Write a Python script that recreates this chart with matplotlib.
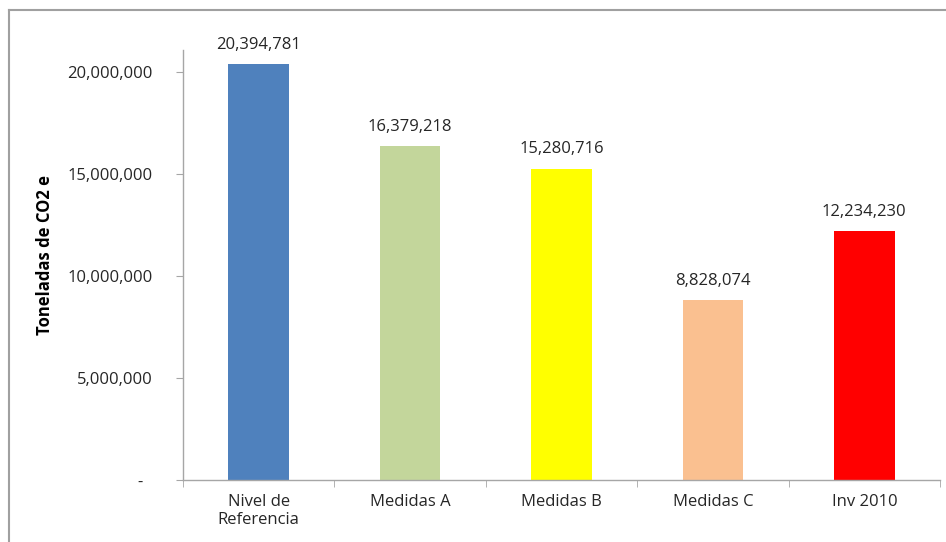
import matplotlib
matplotlib.use("Agg")
import matplotlib.pyplot as plt
from matplotlib.lines import Line2D

# data
categories = ["Nivel de\nReferencia", "Medidas A", "Medidas B", "Medidas C", "Inv 2010"]
values = [20394781, 16379218, 15280716, 8828074, 12234230]
bar_colors = ["#4F81BD", "#C3D69B", "#FFFF00", "#FAC090", "#FF0000"]
y_ticks = [0, 5000000, 10000000, 15000000, 20000000]

plt.rcParams["font.family"] = ["Open Sans", "DejaVu Sans"]
text_col = "#262626"
axis_col = "#A6A6A6"
fsize = 12

fig = plt.figure(figsize=(9.46, 5.42), dpi=100)
ax = fig.add_axes([0.1934, 0.1144, 0.8003, 0.7933])

x = list(range(len(categories)))
bars = ax.bar(x, values, width=0.4, color=bar_colors, zorder=2)

for xi, v in zip(x, values):
    ax.annotate("{:,}".format(v), (xi, v), xytext=(0, 8), textcoords="offset points",
                ha="center", va="bottom", fontsize=fsize, color=text_col)

ax.set_xlim(-0.5, len(categories) - 0.5)
ax.set_ylim(0, 21100000)
ax.set_yticks(y_ticks)
# zero shown as a dash, accounting style
ax.set_yticklabels(["{:,}".format(t) if t else "-  " for t in y_ticks])
ax.set_xticks(x)
ax.set_xticklabels(categories)
# tick marks sit between the categories
ax.set_xticks([i - 0.5 for i in range(len(categories) + 1)], minor=True)
ax.tick_params(axis="x", which="major", length=0, pad=10, labelsize=fsize, labelcolor=text_col)
ax.tick_params(axis="x", which="minor", length=5, color=axis_col, direction="out")
ax.tick_params(axis="y", length=5, color=axis_col, pad=17, labelsize=fsize, labelcolor=text_col)

fig.text(45 / 946, 1 - 255 / 542, "Toneladas de CO2 e", rotation=90, ha="center", va="center",
         fontsize=fsize, fontweight="bold", color="black")

for side in ["top", "right"]:
    ax.spines[side].set_visible(False)
for side in ["left", "bottom"]:
    ax.spines[side].set_color(axis_col)
    ax.spines[side].set_linewidth(1.0)

# outer chart frame (top and left edges visible in the reference)
fig.add_artist(Line2D([0.0095, 1.0], [0.981, 0.981], transform=fig.transFigure, color="#A0A0A0", lw=1.5))
fig.add_artist(Line2D([0.0095, 0.0095], [0.0, 0.981], transform=fig.transFigure, color="#A0A0A0", lw=1.5))

fig.savefig("out.png", dpi=100)
